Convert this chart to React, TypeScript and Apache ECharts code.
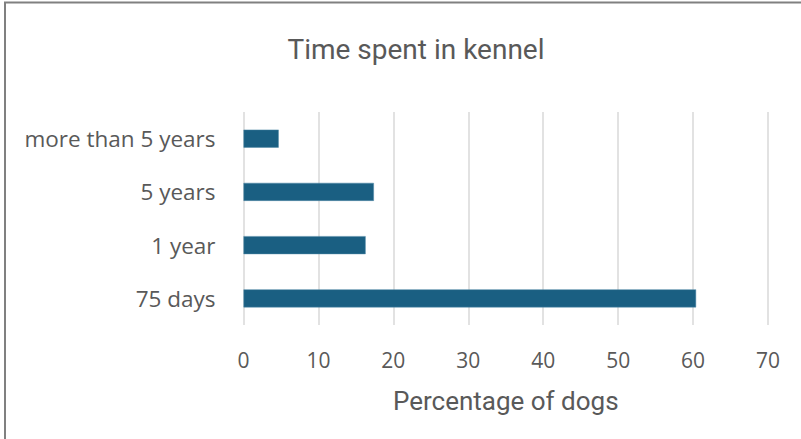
import React, { useEffect, useRef } from "react";
import * as echarts from "echarts";

const categories = ["75 days", "1 year", "5 years", "more than 5 years"];
const percentages = [60.4, 16.3, 17.4, 4.7];
const xTicks = { min: 0, max: 70, interval: 10 };

const TEXT = "#595959";

export default function App() {
  const ref = useRef<HTMLDivElement>(null);
  useEffect(() => {
    if (!ref.current) return;
    const chart = echarts.init(ref.current, null, { renderer: "svg" });
    chart.setOption({
      animation: false,
      backgroundColor: "#ffffff",
      title: {
        text: "Time spent in kennel",
        left: 411,
        top: 30,
        textAlign: "center",
        textStyle: { fontFamily: "Roboto", fontSize: 28, fontWeight: "normal", color: TEXT },
      },
      graphic: [
        {
          type: "rect",
          shape: { x: 5, y: 2.5, width: 900, height: 600 },
          style: { fill: "none", stroke: "#808080", lineWidth: 2 },
          silent: true,
        },
      ],
      grid: { left: 243.5, right: 33, top: 112, bottom: 114, containLabel: false },
      xAxis: {
        type: "value",
        min: xTicks.min,
        max: xTicks.max,
        interval: xTicks.interval,
        name: "Percentage of dogs",
        nameLocation: "middle",
        nameGap: 63,
        nameTextStyle: { fontFamily: "Roboto", fontSize: 26, color: TEXT },
        axisLine: { show: false },
        axisTick: { show: false },
        axisLabel: { fontFamily: "Open Sans", fontSize: 21, color: TEXT, margin: 24 },
        splitLine: { show: true, lineStyle: { color: "#d9d9d9", width: 1.5 } },
      },
      yAxis: {
        type: "category",
        data: categories,
        axisLine: { show: false },
        axisTick: { show: false },
        axisLabel: { fontFamily: "Open Sans", fontSize: 22.5, color: TEXT, margin: 28 },
        splitLine: { show: false },
      },
      series: [
        {
          type: "bar",
          data: percentages,
          barWidth: 18,
          itemStyle: { color: "#1a5f82", borderColor: "#4f88a6", borderWidth: 0.5 },
        },
      ],
    });
    return () => chart.dispose();
  }, []);
  return (
    <div
      ref={ref}
      style={{ position: "fixed", left: 0, top: 0, width: 801, height: 439, background: "#fff" }}
    />
  );
}
